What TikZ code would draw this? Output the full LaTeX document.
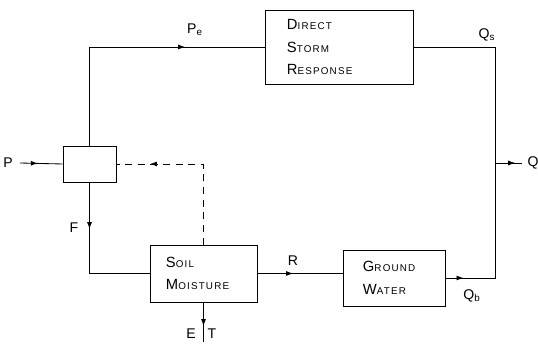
\documentclass[tikz,border=0pt]{standalone}
\usepackage{fontspec}
\setmainfont{Liberation Sans}
\newfontfamily\boxfont[LetterSpace=12]{Liberation Sans}
\usetikzlibrary{positioning,arrows.meta,decorations.markings}
\newcommand{\capword}[2]{{\fontsize{10.5}{16}\selectfont #1}{\fontsize{7}{16}\selectfont #2}}

\begin{document}
\begin{tikzpicture}[
	x=0.025cm, y=-0.025cm,
	box/.style={
		draw,
		line width=0.6pt,
		align=left,
		font=\boxfont\fontsize{10}{16}\selectfont,
		inner sep=0pt
	},
	flow/.style={line width=0.6pt},
	signal/.style={line width=0.6pt, dash pattern=on 5pt off 4pt},
	midarrow/.style={postaction={decorate},
		decoration={markings, mark=at position #1 with {\arrow{Latex[length=5pt,width=3.5pt]}}}},
	lbl/.style={font=\fontsize{10}{12}\selectfont, inner sep=0pt}
	]
	\useasboundingbox (0,0) rectangle (538,346);
	
	% boxes
	\node[box,minimum width=1.325cm,minimum height=0.9cm] (split) at (89.5,164) {};
	\node[box,text width=2.6cm,inner xsep=0.55cm,minimum height=1.85cm] (dsr) at (339,47)
	{\capword{D}{IRECT}\\ \capword{S}{TORM}\\ \capword{R}{ESPONSE}};
	\node[box,text width=1.875cm,inner xsep=0.4cm,minimum height=1.425cm] (sm) at (203.5,273.5)
	{\capword{S}{OIL}\\ \capword{M}{OISTURE}};
	\node[box,text width=1.55cm,inner xsep=0.5cm,minimum height=1.4cm] (gw) at (394,278)
	{\capword{G}{ROUND}\\ \capword{W}{ATER}};
	
	\coordinate (pin) at (20,163);
	\coordinate (qj) at (495,163);
	\coordinate (qout) at (522,163);
	\coordinate (et) at (203.5,342);
	
	% flows
	\draw[flow,midarrow=0.42] (pin) -- (split.west);
	\draw[flow,midarrow=0.71] (split.north) |- (dsr.west);
	\draw[flow] (dsr.east) -| (qj);
	\draw[flow,midarrow=0.11] (gw.east) -| (qj);
	\draw[flow,midarrow=0.75] (qj) -- (qout);
	\draw[flow,midarrow=0.31] (split.south) |- (sm.west);
	\draw[flow,midarrow=0.42] (sm.east) -- (sm.east -| gw.west);
	\draw[flow,midarrow=0.6] (sm.south) -- (et);
	\draw[signal,midarrow=0.8] (sm.north) |- (split.east);
	
	% labels
	\node[lbl] (lp) at (8,163) {P};
	\node[lbl] (lpe) at (195,30) {P\textsubscript{e}};
	\node[lbl] (lqs) at (487,35) {Q\textsubscript{s}};
	\node[lbl] (lq) at (533,163) {Q};
	\node[lbl] (lqb) at (472,296) {Q\textsubscript{b}};
	\node[lbl] (lr) at (293,261) {R};
	\node[lbl] (lf) at (74,228) {F};
	\node[lbl] (le) at (191,334) {E};
	\node[lbl] (lt) at (212,334) {T};
	
\end{tikzpicture}
\end{document}
